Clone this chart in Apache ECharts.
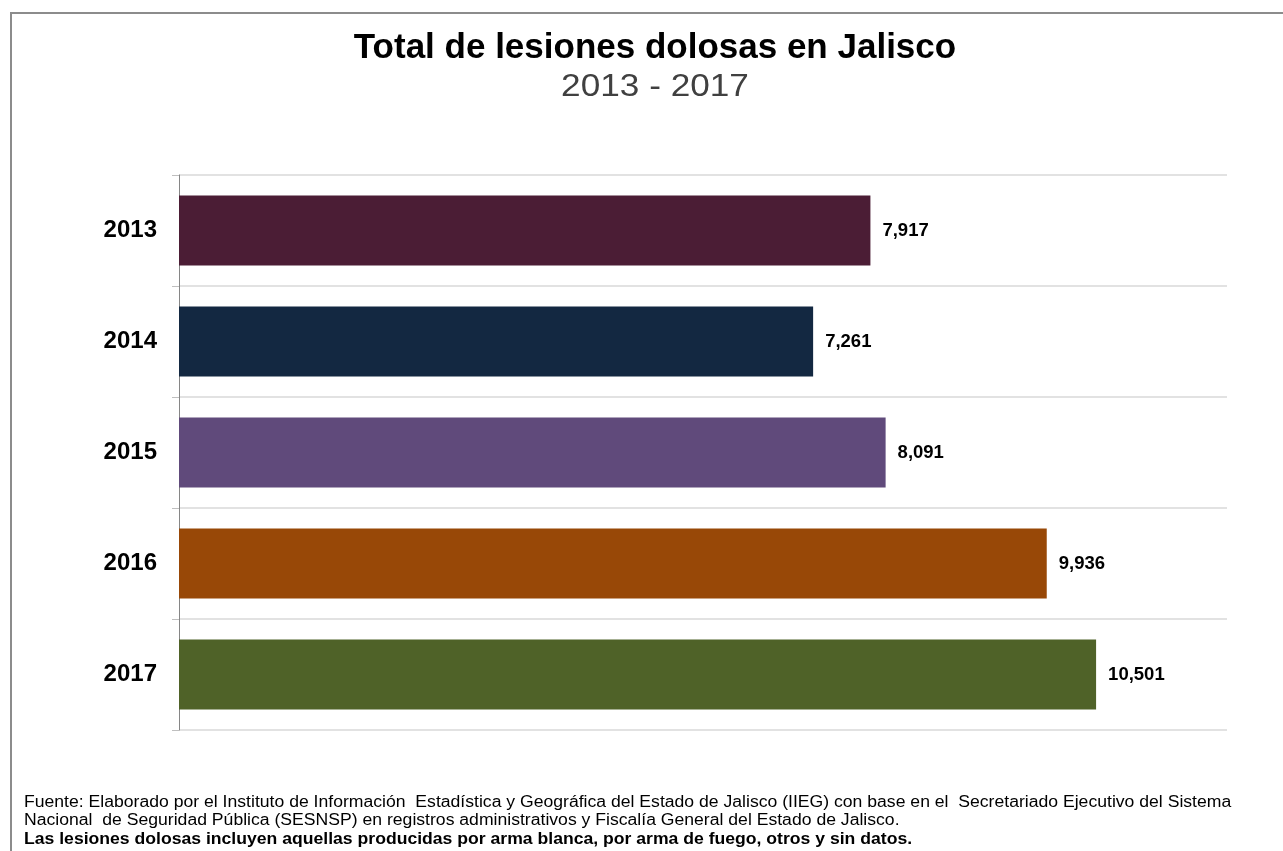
<!DOCTYPE html>
<html>
<head>
<meta charset="utf-8">
<script src="https://cdn.jsdelivr.net/npm/echarts@6/dist/echarts.min.js"></script>
<style>
html,body{margin:0;padding:0;background:#fff;}
#chart{width:1283px;height:851px;}
</style>
</head>
<body>
<div id="chart"></div>
<script>
const categories = ['2013', '2014', '2015', '2016', '2017'];
const values = [7917, 7261, 8091, 9936, 10501];
const barColors = ['#4B1D35', '#132841', '#604A7B', '#984807', '#4F6228'];
const titleText = 'Total de lesiones dolosas en Jalisco';
const subtitleText = '2013 - 2017';
const footLines = [
  'Fuente: Elaborado por el Instituto de Información  Estadística y Geográfica del Estado de Jalisco (IIEG) con base en el  Secretariado Ejecutivo del Sistema',
  'Nacional  de Seguridad Pública (SESNSP) en registros administrativos y Fiscalía General del Estado de Jalisco.'
];
const footBold = 'Las lesiones dolosas incluyen aquellas producidas por arma blanca, por arma de fuego, otros y sin datos.';

const chart = echarts.init(document.getElementById('chart'), null, {renderer: 'canvas'});
const font = 'Liberation Sans, Arial, sans-serif';
chart.setOption({
  backgroundColor: '#ffffff',
  animation: false,
  grid: {left: 179, right: 56, top: 175, bottom: 121, containLabel: false},
  xAxis: {
    type: 'value', min: 0, max: 12000, show: false,
    splitLine: {show: false}
  },
  yAxis: {
    type: 'category',
    data: categories,
    inverse: true,
    axisLine: {lineStyle: {color: '#868686', width: 1}},
    axisTick: {show: true, length: 7, lineStyle: {color: '#bfbfbf'}},
    splitLine: {show: true, lineStyle: {color: '#d9d9d9', width: 1.5}},
    axisLabel: {fontFamily: font, fontSize: 24, fontWeight: 'bold', color: '#000', margin: 22}
  },
  series: [{
    type: 'bar',
    data: values.map((v, i) => ({value: v, itemStyle: {color: barColors[i]}})),
    barCategoryGap: '37%',
    label: {
      show: true, position: 'right', distance: 12,
      fontFamily: font, fontSize: 18.5, fontWeight: 'bold', color: '#000',
      formatter: p => p.value.toLocaleString('en-US')
    }
  }],
  graphic: [
    {type: 'rect', shape: {x: 11, y: 13, width: 1400, height: 1000},
     style: {fill: 'none', stroke: '#8c8c8c', lineWidth: 2}, silent: true},
    {type: 'text', x: 655, y: 48, style: {text: titleText, font: 'bold 35px ' + font, fill: '#000', textAlign: 'center', textVerticalAlign: 'middle'}},
    {type: 'text', x: 655, y: 87, scaleX: 1.1, style: {text: subtitleText, font: '32px ' + font, fill: '#404040', textAlign: 'center', textVerticalAlign: 'middle'}},
    {type: 'text', x: 24, y: 803, scaleX: 1.1, style: {text: footLines[0], font: '16px ' + font, fill: '#000', textVerticalAlign: 'middle'}},
    {type: 'text', x: 24, y: 821, scaleX: 1.1, style: {text: footLines[1], font: '16px ' + font, fill: '#000', textVerticalAlign: 'middle'}},
    {type: 'text', x: 24, y: 840, scaleX: 1.1, style: {text: footBold, font: 'bold 16px ' + font, fill: '#000', textVerticalAlign: 'middle'}}
  ]
});
</script>
</body>
</html>
